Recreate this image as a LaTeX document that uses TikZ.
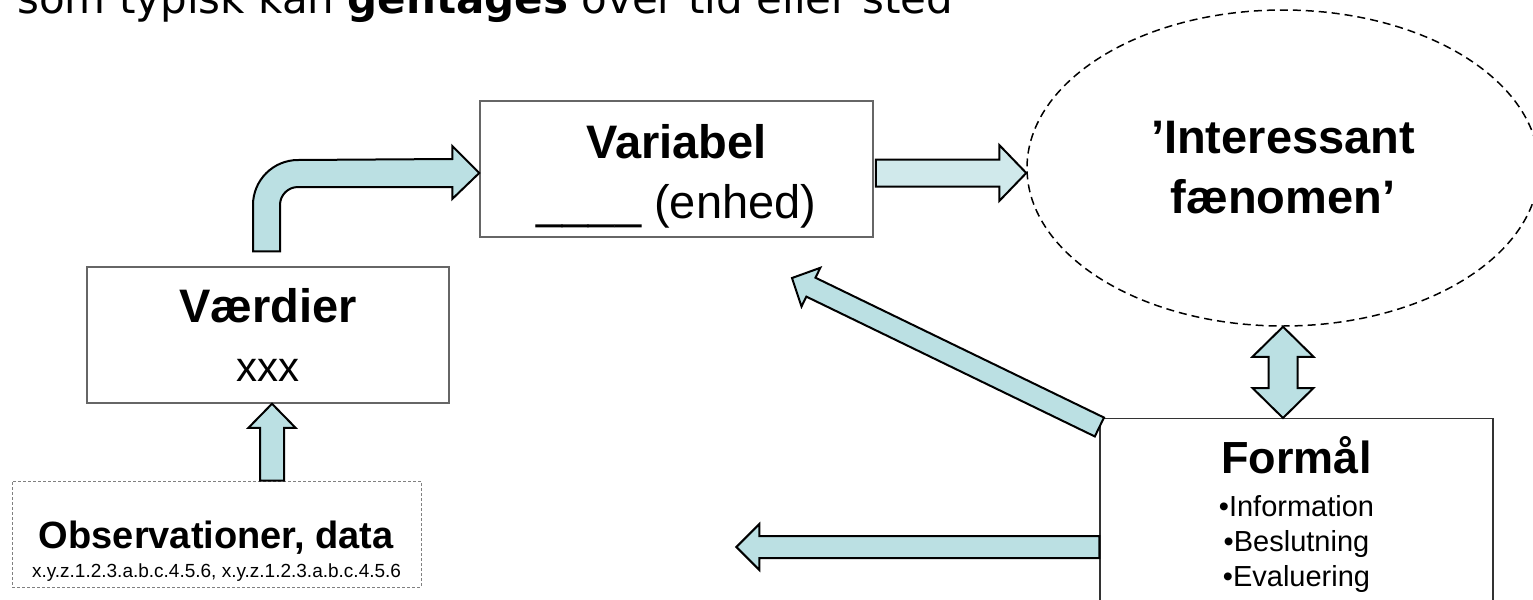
\documentclass[tikz,border=0pt]{standalone}
\usepackage{fontspec}
\setmainfont{Liberation Sans}
\newfontfamily\dejavu{DejaVu Sans}
\usetikzlibrary{calc, positioning, shapes.geometric}

\definecolor{arrowfill}{HTML}{BBE0E3}
\definecolor{arrowlight}{HTML}{D0E9EB}
\definecolor{boxline}{HTML}{666666}

% straight block arrow: [style]{from}{to}{half shaft}{half head}{head length}
\newcommand{\blockarrow}[6][]{%
  \coordinate (ba-h) at ($(#3)!#6!(#2)$);
  \draw[bigarrow, #1] ($(#2)!#4!90:(#3)$) -- ($(ba-h)!#4!-90:(#2)$)
    -- ($(ba-h)!#5!-90:(#2)$) -- (#3) -- ($(ba-h)!#5!90:(#2)$)
    -- ($(ba-h)!#4!90:(#2)$) -- ($(#2)!#4!-90:(#3)$) -- cycle;
}
% block arrow with a head at both ends
\newcommand{\doublearrow}[5]{%
  \coordinate (da-a) at ($(#1)!#5!(#2)$);
  \coordinate (da-b) at ($(#2)!#5!(#1)$);
  \draw[bigarrow] (#1) -- ($(da-a)!#4!90:(#2)$) -- ($(da-a)!#3!90:(#2)$)
    -- ($(da-b)!#3!-90:(#1)$) -- ($(da-b)!#4!-90:(#1)$) -- (#2)
    -- ($(da-b)!#4!90:(#1)$) -- ($(da-b)!#3!90:(#1)$)
    -- ($(da-a)!#3!-90:(#2)$) -- ($(da-a)!#4!-90:(#2)$) -- cycle;
}

\begin{document}
\begin{tikzpicture}[
    x=0.5pt, y=-0.5pt,
    bigarrow/.style={
        draw=black,
        fill=arrowfill,
        line width=1pt,
        line join=miter,
    },
    databox/.style={
        draw=boxline,
        line width=0.75pt,
        inner sep=0pt,
        align=center,
    },
    obsbox/.style={
        draw=gray,
        dash pattern=on 1.5pt off 1pt,
        line width=0.5pt,
        inner sep=0pt,
        align=center,
    },
    phenomenon/.style={
        ellipse,
        draw=black,
        dash pattern=on 4pt off 2.5pt,
        line width=0.75pt,
        inner sep=0pt,
        align=center,
        font=\bfseries\fontsize{23.5}{30}\selectfont,
    },
    plain/.style={
        inner sep=0pt,
        align=center,
    }
]
    \useasboundingbox (0,0) rectangle (1533,600);

    % Heading line (cut at the top)
    \node[plain, anchor=base west, font=\dejavu\fontsize{21}{25}\selectfont] (heading) at (17,13)
        {som typisk kan \textbf{gentages} over tid eller sted};

    % Boxes
    \node[databox, minimum width=196.5pt, minimum height=68pt,
          font=\fontsize{23.5}{30}\selectfont] (variabel) at (676.5,169)
        {\rule{0pt}{24pt}\textbf{Variabel}\\\_\_\_\_ (enhed)};
    \node[databox, minimum width=181pt, minimum height=68pt,
          font=\fontsize{23.5}{29.5}\selectfont] (vaerdier) at (268,335)
        {\textbf{Værdier}\\{\fontsize{21}{29.5}\selectfont xxx}};
    \node[obsbox, minimum width=204.5pt, minimum height=53pt,
          font=\fontsize{19}{14.5}\selectfont] (obs) at (216.5,534)
        {\rule{0pt}{30.5pt}\textbf{Observationer, data}\\
         {\fontsize{9.5}{11}\selectfont x.y.z.1.2.3.a.b.c.4.5.6, x.y.z.1.2.3.a.b.c.4.5.6}};
    \node[phenomenon, minimum width=256pt, minimum height=158pt] (interessant) at (1283,168)
        {’Interessant\\fænomen’};
    \node[draw=black!80, line width=0.6pt, minimum width=196.5pt, minimum height=120pt,
          anchor=north] (formaal) at (1296.5,418) {};
    \node[plain, anchor=base, font=\bfseries\fontsize{22.5}{27}\selectfont] (formaaltitel)
        at ($(formaal.north)+(0,55)$) {Formål};
    \node[plain, below=10.5pt of formaaltitel, font=\fontsize{14.5}{17.5}\selectfont] (formaalpunkter)
        {•Information\\•Beslutning\\•Evaluering};

    % Arrow ends
    \coordinate (uptip) at ($(vaerdier.south)+(4,0)$);
    \coordinate (upfoot) at (uptip |- obs.north);
    \coordinate (bendfoot) at ($(vaerdier.north)+(-1.5,-15)$);
    \coordinate (bendtip) at ($(variabel.west)+(0,4)$);
    \coordinate (bendcorner) at (bendfoot |- bendtip);
    \coordinate (righttail) at ($(variabel.east)+(2,4)$);
    \coordinate (righttip) at ($(interessant.west)+(0,5)$);
    \coordinate (linktop) at (interessant.south);
    \coordinate (linkbottom) at (interessant.south |- formaal.north);
    \coordinate (diagtail) at ($(formaal.north west)+(0,9)$);
    \coordinate (diagtip) at (792,278);
    \coordinate (lefttail) at ($(formaal.north west)+(0,129)$);
    \coordinate (lefttip) at ($(lefttail)+(-363,0)$);

    % Arrows
    \blockarrow{upfoot}{uptip}{6pt}{11.75pt}{12pt}
    \draw[bigarrow] ($(bendfoot)+(-13.5,0)$) -- ($(bendcorner)+(-13.5,32)$)
        arc[start angle=180, end angle=270, radius=45]
        -- ($(bendtip)+(-27,-14)$) -- ($(bendtip)+(-27,-27)$) -- (bendtip)
        -- ($(bendtip)+(-27,26)$) -- ($(bendtip)+(-27,14)$)
        -- ($(bendcorner)+(31.5,14)$)
        arc[start angle=270, end angle=180, radius=18]
        -- ($(bendfoot)+(13.5,0)$) -- cycle;
    \blockarrow[fill=arrowlight]{righttail}{righttip}{6.75pt}{14pt}{13.5pt}
    \doublearrow{linktop}{linkbottom}{7.25pt}{15.25pt}{15pt}
    \blockarrow{diagtail}{diagtip}{5.25pt}{10.75pt}{10.5pt}
    \blockarrow{lefttail}{lefttip}{5.5pt}{11.5pt}{11.5pt}
\end{tikzpicture}
\end{document}
